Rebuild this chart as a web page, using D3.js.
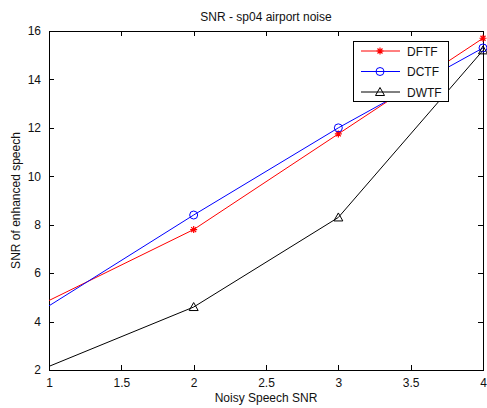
<!DOCTYPE html>
<html lang="en">
<head>
<meta charset="UTF-8">
<title>SNR - sp04 airport noise</title>
<style>
  html, body { padding:0; margin:0; background:#fff; }
  text { font-family: "Liberation Sans", Arial, sans-serif; }
</style>
</head>
<body>
<script src="https://d3js.org/d3.v7.min.js"></script>
<script>
var noisySnr = [1, 2, 3, 4];
var dftf = [4.87, 7.8, 11.75, 15.7];
var dctf = [4.65, 8.4, 12.0, 15.3];
var dwtf = [2.15, 4.6, 8.3, 15.2];
var xTicks = [1, 1.5, 2, 2.5, 3, 3.5, 4];
var yTicks = [2, 4, 6, 8, 10, 12, 14, 16];

var width = 487, height = 408;
var plotLeft = 49, plotRight = 483, plotTop = 31, plotBottom = 370;

var svg = d3.select('body').append('svg')
    .attr('width', width)
    .attr('height', height);

var x = d3.scaleLinear().domain([1, 4]).range([plotLeft, plotRight]);
var y = d3.scaleLinear().domain([2, 16]).range([plotBottom, plotTop]);

// axes, ticks pointing inward like matlab
var axisBottom = d3.axisBottom(x).tickValues(xTicks).tickSizeInner(-5).tickSizeOuter(0).tickPadding(8).tickFormat(d3.format('~g'));
var axisLeft = d3.axisLeft(y).tickValues(yTicks).tickSizeInner(-5).tickSizeOuter(0).tickPadding(8);
var axisTop = d3.axisTop(x).tickValues(xTicks).tickSizeInner(-5).tickSizeOuter(0).tickFormat('');
var axisRight = d3.axisRight(y).tickValues(yTicks).tickSizeInner(-5).tickSizeOuter(0).tickFormat('');

function styleAxis(g) {
    g.selectAll('path, line').attr('stroke', '#000').attr('shape-rendering', 'crispEdges');
    g.selectAll('text').attr('font-size', 12).attr('fill', '#111')
        .attr('font-family', '"Liberation Sans", Arial, sans-serif');
}

svg.append('g').attr('transform', 'translate(0,' + plotBottom + ')').call(axisBottom).call(styleAxis);
svg.append('g').attr('transform', 'translate(' + plotLeft + ',0)').call(axisLeft).call(styleAxis);
svg.append('g').attr('transform', 'translate(0,' + plotTop + ')').call(axisTop).call(styleAxis);
svg.append('g').attr('transform', 'translate(' + plotRight + ',0)').call(axisRight).call(styleAxis);

// titles
svg.append('text').attr('x', (plotLeft + plotRight) / 2).attr('y', 21)
    .attr('text-anchor', 'middle').attr('font-size', 12).attr('fill', '#111').text('SNR - sp04 airport noise');
svg.append('text').attr('x', (plotLeft + plotRight) / 2).attr('y', 402)
    .attr('text-anchor', 'middle').attr('font-size', 12).attr('fill', '#111').text('Noisy Speech SNR');
svg.append('text').attr('transform', 'translate(20,' + ((plotTop + plotBottom) / 2) + ') rotate(-90)')
    .attr('text-anchor', 'middle').attr('font-size', 12).attr('fill', '#111').text('SNR of enhanced speech');

var series = [
    { name: 'DFTF', values: dftf, color: '#ff0000', marker: 'star' },
    { name: 'DCTF', values: dctf, color: '#0000ff', marker: 'circle' },
    { name: 'DWTF', values: dwtf, color: '#000000', marker: 'triangle' }
];

var line = d3.line()
    .x(function(d, i) { return x(noisySnr[i]); })
    .y(function(d) { return y(d); });

function drawMarker(g, type, color) {
    if (type === 'star') {
        g.append('path').attr('d', 'M-3.5,0H3.5M0,-3.5V3.5M-2.5,-2.5L2.5,2.5M-2.5,2.5L2.5,-2.5')
            .attr('stroke', color).attr('stroke-width', 1.2).attr('fill', 'none');
    } else if (type === 'circle') {
        g.append('circle').attr('r', 4).attr('fill', 'none').attr('stroke', color).attr('stroke-width', 1);
    } else {
        g.append('path').attr('d', 'M0,-4.5L4.5,3.5H-4.5Z').attr('fill', 'none').attr('stroke', color).attr('stroke-width', 1);
    }
}

var plot = svg.append('g');
series.forEach(function(s) {
    plot.append('path').datum(s.values)
        .attr('d', line).attr('fill', 'none').attr('stroke', s.color).attr('stroke-width', 1);
    s.values.forEach(function(v, i) {
        // the reference shows no markers on the left axis edge
        if (noisySnr[i] <= x.domain()[0]) return;
        var g = plot.append('g').attr('transform', 'translate(' + x(noisySnr[i]) + ',' + y(v) + ')');
        drawMarker(g, s.marker, s.color);
    });
});

// legend
var legend = svg.append('g').attr('transform', 'translate(353,41)');
legend.append('rect').attr('width', 95).attr('height', 60)
    .attr('fill', '#fff').attr('stroke', '#000').attr('shape-rendering', 'crispEdges');
series.forEach(function(s, i) {
    var ly = 10 + i * 20.5;
    legend.append('line').attr('x1', 8).attr('x2', 47).attr('y1', ly).attr('y2', ly)
        .attr('stroke', s.color).attr('stroke-width', 1);
    var g = legend.append('g').attr('transform', 'translate(27,' + ly + ')');
    drawMarker(g, s.marker, s.color);
    legend.append('text').attr('x', 54).attr('y', ly + 4.5).attr('font-size', 12).attr('fill', '#111').text(s.name);
});
</script>
</body>
</html>
